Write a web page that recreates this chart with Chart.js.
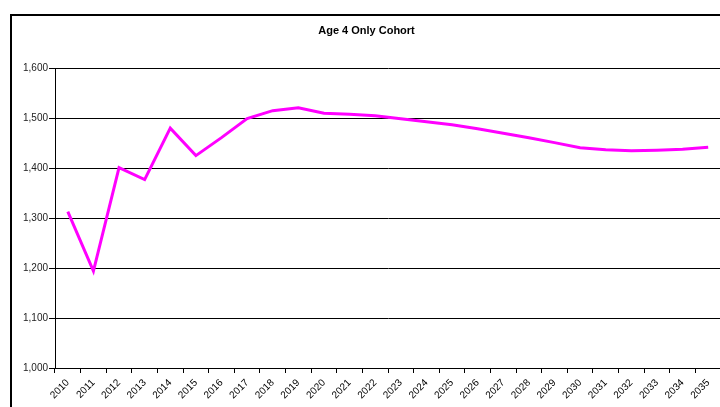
<!DOCTYPE html>
<html>
<head>
<meta charset="utf-8">
<script src="https://cdn.jsdelivr.net/npm/chart.js@4/dist/chart.umd.min.js"></script>
<style>
  body { margin: 0; background: #fff; overflow: hidden; width: 720px; height: 407px; }
  .box { position: absolute; left: 10px; top: 14px; width: 730px; height: 410px; border: 2px solid #000; }
  canvas { display: block; }
</style>
</head>
<body>
<div class="box"><canvas id="lineChart" width="716" height="400"></canvas></div>
<script>

// years along the x axis
const years = ["2010", "2011", "2012", "2013", "2014", "2015", "2016", "2017", "2018",
  "2019", "2020", "2021", "2022", "2023", "2024", "2025", "2026", "2027", "2028",
  "2029", "2030", "2031", "2032", "2033", "2034", "2035"];

// cohort counts
const cohort = [1313, 1194, 1401, 1377, 1480, 1425, 1461, 1499, 1515,
  1521, 1510, 1508, 1505, 1499, 1493, 1487, 1479, 1470, 1461,
  1451, 1441, 1437, 1435, 1436, 1438, 1442];

const yMin = 1000;
const yMax = 1600;
const yStep = 100;

Chart.defaults.font.family = "Arial, 'Liberation Sans', sans-serif";
Chart.defaults.color = "#000";

var lineData = {
  labels: years,
  datasets: [{
    label: 'Age 4 Only Cohort',
    data: cohort,
    borderColor: '#ff00ff',
    backgroundColor: '#ff00ff',
    borderWidth: 3,
    pointRadius: 0,
    tension: 0,
    fill: false
  }]
};

var lineOptions = {
  responsive: false,
  animation: false,
  layout: {
    padding: { left: 0, right: 7, top: 0, bottom: 0 }
  },
  plugins: {
    legend: { display: false },
    tooltip: { enabled: false },
    title: {
      display: true,
      text: 'Age 4 Only Cohort',
      color: '#000',
      font: { size: 11, weight: 'bold' },
      padding: { top: 8, bottom: 31 }
    }
  },
  scales: {
    x: {
      type: 'category',
      offset: true,
      afterFit: function(scale) { scale.height = 48; },
      border: { display: true, color: '#000', width: 1 },
      grid: {
        offset: true,
        drawOnChartArea: false,
        drawTicks: true,
        tickLength: 5,
        color: '#000'
      },
      ticks: {
        autoSkip: false,
        minRotation: 45,
        maxRotation: 45,
        padding: 4,
        font: { size: 10 },
        color: '#000'
      }
    },
    y: {
      min: yMin,
      max: yMax,
      afterFit: function(scale) { scale.width = 43; },
      border: { display: true, color: '#000', width: 1 },
      grid: {
        color: '#000',
        lineWidth: 1,
        drawTicks: true,
        tickLength: 6
      },
      ticks: {
        stepSize: yStep,
        padding: 1,
        font: { size: 10 },
        color: '#222',
        callback: function(v) { return v.toLocaleString('en-US'); }
      }
    }
  }
};

var ctx = document.getElementById("lineChart").getContext("2d");
var lineChart = new Chart(ctx, {
  type: 'line',
  data: lineData,
  options: lineOptions
});

</script>
</body>
</html>
